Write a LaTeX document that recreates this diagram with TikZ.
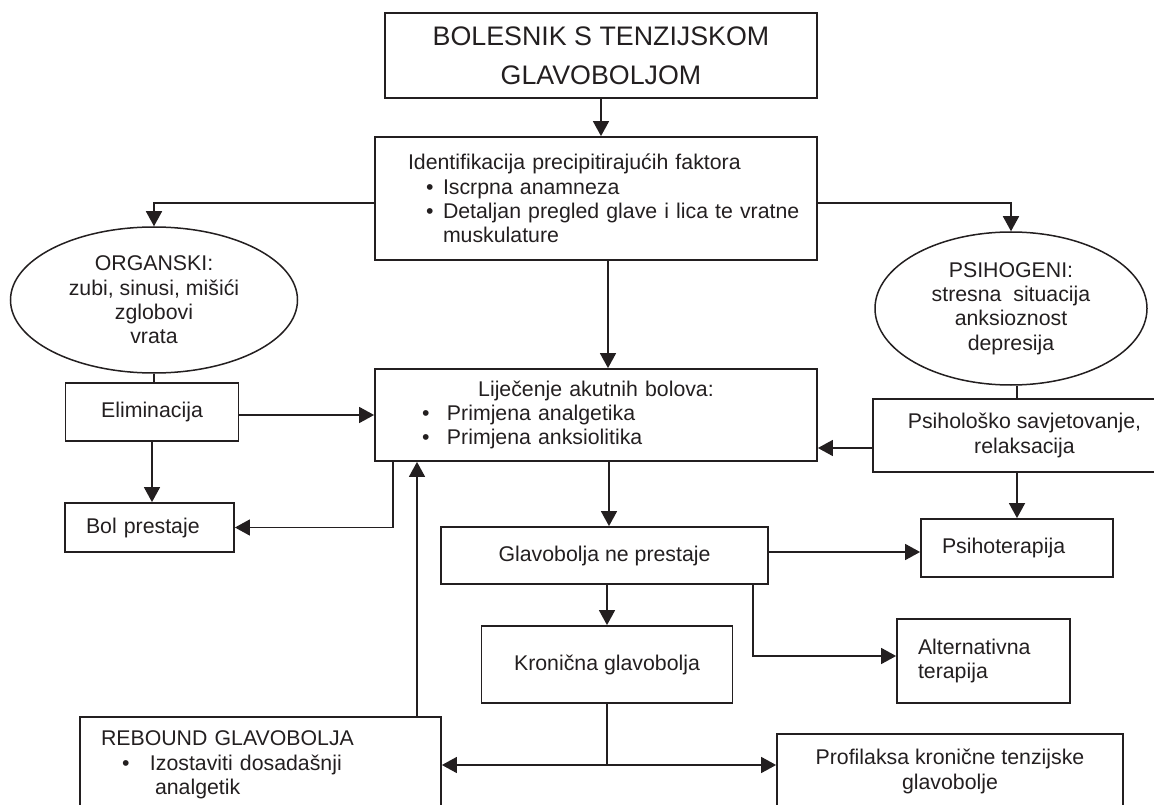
\documentclass[tikz,border=0pt]{standalone}
\usepackage{fontspec}
\setmainfont{Liberation Sans}
\usetikzlibrary{shapes.geometric, arrows.meta}
\definecolor{ink}{RGB}{35,31,32}
\tikzstyle{box} = [rectangle, draw=ink, text=ink, line width=1.8pt, inner sep=0pt, font=\fontsize{21.3}{24.4}\selectfont]
\tikzstyle{oval} = [ellipse, draw=ink, text=ink, line width=1.5pt, inner sep=0pt, align=center, font=\fontsize{21.3}{24.4}\selectfont]
\tikzstyle{arrow} = [draw=ink, line width=1.6pt, -{Triangle[length=15pt,width=16pt]}]
\tikzstyle{link} = [draw=ink, line width=1.6pt]
\newcommand{\bul}[2]{\hspace*{#1}\makebox[#2][l]{\textbullet}}

\begin{document}
\begin{tikzpicture}[x=1pt, y=-1pt]
\useasboundingbox (0,0) rectangle (1154,805);
\clip (0,0) rectangle (1154,805);
\node(top)[box, minimum width=432pt, minimum height=85pt, align=center, font=\fontsize{26.8}{39}\selectfont] at (601,55.5) {BOLESNIK S TENZIJSKOM\\GLAVOBOLJOM};
\node(ident)[box, minimum width=442pt, minimum height=123pt, text width=442pt, align=left] at (596,198.5) {\hspace*{33pt}Identifikacija precipitirajućih faktora\\ \bul{51pt}{17pt}Iscrpna anamneza\\ \bul{51pt}{17pt}Detaljan pregled glave i lica te vratne\\ \hspace*{68pt}muskulature};
\draw[arrow] (top.south) -- (top.south |- ident.north);
% the two causes
\node(organ)[oval, minimum width=287pt, minimum height=146pt] at (154,300) {ORGANSKI:\\zubi, sinusi, mišići\\zglobovi\\vrata};
\node(psiho)[oval, minimum width=272pt, minimum height=153pt] at (1011,308.5) {PSIHOGENI:\\stresna\ \ situacija\\anksioznost\\depresija};
\draw[arrow] ([yshift=-4.5pt]ident.west) -| (organ.north);
\draw[arrow] ([yshift=-4.5pt]ident.east) -| (psiho.north);
\node(lijec)[box, minimum width=442pt, minimum height=92pt, text width=442pt, align=left] at (596,415) {\centering Liječenje akutnih bolova:\\ \raggedright\bul{47pt}{25pt}Primjena analgetika\\ \bul{47pt}{25pt}Primjena anksiolitika};
\draw[arrow] ([xshift=12pt]ident.south) -- ([xshift=12pt]lijec.north);
\node(elim)[box, minimum width=173pt, minimum height=58pt] at (152,412) {Eliminacija};
\draw[link] (organ.south) -- (organ.south |- elim.north);
\draw[arrow] (lijec.west -| elim.east) -- (lijec.west);
\node(bol)[box, minimum width=169pt, minimum height=49pt, text width=169pt, align=left] at (149.5,527.5) {\hspace*{21pt}Bol prestaje};
\draw[arrow] (elim.south) -- (elim.south |- bol.north);
\coordinate(lijecA) at ([xshift=-203pt]lijec.south);
\coordinate(lijecB) at ([xshift=-179pt]lijec.south);
\draw[arrow] (lijecA) |- (bol.east);
\node(psihsav)[box, minimum width=303pt, minimum height=73pt, align=center] at (1024.5,435.5) {Psihološko savjetovanje,\\relaksacija};
\draw[arrow] ([yshift=-12.5pt]psihsav.west) -- ([yshift=-12.5pt]psihsav.west -| lijec.east);
\node(psihot)[box, minimum width=192pt, minimum height=58pt, text width=192pt, align=left] at (1017,548) {\hspace*{21pt}Psihoterapija};
\draw[link] (psiho.south -| psihot.north) -- (psihsav.north -| psihot.north);
\draw[arrow] (psihsav.south -| psihot.north) -- (psihot.north);
% not stopping
\node(glav)[box, minimum width=327pt, minimum height=57pt] at (604.5,555.5) {Glavobolja ne prestaje};
\draw[arrow] ([xshift=13pt]lijec.south) -- ([xshift=13pt]lijec.south |- glav.north);
\draw[arrow] ([yshift=3.5pt]glav.east) -- ([yshift=3.5pt]glav.east -| psihot.west);
\node(altern)[box, minimum width=173pt, minimum height=84pt, text width=173pt, align=left] at (983.5,661) {\hspace*{21pt}Alternativna\\ \hspace*{21pt}terapija};
\draw[arrow] ([xshift=148.5pt]glav.south) |- ([yshift=5pt]altern.west);
\node(kron)[box, minimum width=251pt, minimum height=77pt] at (607,664.5) {Kronična glavobolja};
\draw[arrow] (glav.south -| kron.north) -- (kron.north);
\node(rebound)[box, minimum width=361pt, minimum height=96pt, text width=361pt, align=left] at (260.5,765) {\hspace*{21pt}REBOUND GLAVOBOLJA\\ \bul{42pt}{28pt}Izostaviti dosadašnji\\ \hspace*{75pt}analgetik};
\draw[arrow] (rebound.north -| lijecB) -- (lijecB);
\node(profil)[box, minimum width=346pt, minimum height=75pt, align=center] at (950,771.5) {Profilaksa kronične tenzijske\\glavobolje};
\coordinate(split) at (kron.south |- rebound.east);
\draw[arrow] (kron.south) |- (rebound.east);
\draw[arrow] (split) -- (split -| profil.west);
\end{tikzpicture}
\end{document}
